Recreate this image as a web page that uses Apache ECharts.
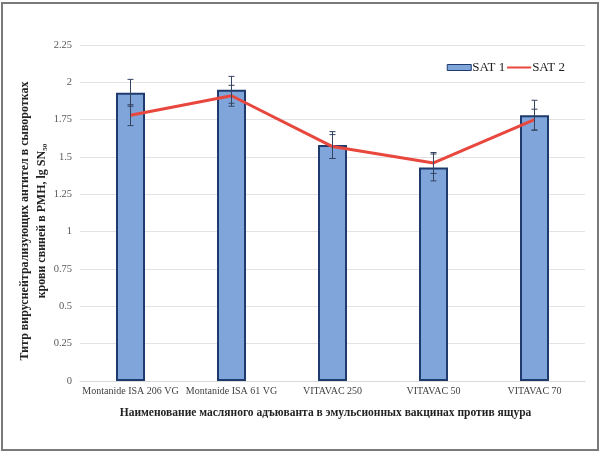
<!DOCTYPE html>
<html><head><meta charset="utf-8">
<script src="https://cdn.jsdelivr.net/npm/echarts@6/dist/echarts.min.js"></script>
<style>html,body{margin:0;padding:0;background:#fff}#c{width:600px;height:455px}</style>
</head><body><div id="c"></div>
<script>
const categories = ['Montanide ISA 206 VG','Montanide ISA 61 VG','VITAVAC 250','VITAVAC 50','VITAVAC 70'];
const sat1 = [1.93, 1.95, 1.58, 1.43, 1.78];
const sat1Err = [0.09, 0.09, 0.09, 0.09, 0.10];
const sat2 = [1.78, 1.91, 1.57, 1.46, 1.75];
const sat2Err = [0.07, 0.07, 0.08, 0.07, 0.07];
const yTicks = [0, 0.25, 0.5, 0.75, 1, 1.25, 1.5, 1.75, 2, 2.25];

const serif = '"Liberation Serif", "DejaVu Serif", serif';
const chart = echarts.init(document.getElementById('c'));

function errRender(values, errs) {
  return function (params, api) {
    const i = api.value(0);
    const v = values[i], e = errs[i];
    const top = api.coord([i, v + e]);
    const bot = api.coord([i, v - e]);
    const x = top[0], hw = 3;
    const st = { stroke: '#34435f', lineWidth: 1 };
    return { type: 'group', children: [
      { type: 'line', shape: { x1: x, y1: top[1], x2: x, y2: bot[1] }, style: st },
      { type: 'line', shape: { x1: x - hw, y1: top[1], x2: x + hw, y2: top[1] }, style: st },
      { type: 'line', shape: { x1: x - hw, y1: bot[1], x2: x + hw, y2: bot[1] }, style: st }
    ]};
  };
}

chart.setOption({
  animation: false,
  textStyle: { fontFamily: serif },
  graphic: [{ type: 'rect', shape: { x: 2, y: 3, width: 596, height: 447 },
    style: { fill: 'none', stroke: '#7a7a7a', lineWidth: 2 }, silent: true }],
  legend: {
    right: 30, top: 56, itemWidth: 24, itemHeight: 6, itemGap: 2,
    textStyle: { fontFamily: serif, fontSize: 13, color: '#222', padding: [0, 0, 0, -4] },
    data: [
      { name: 'SAT 1', icon: 'rect', itemStyle: { color: '#7fa5db', borderColor: '#1f3b6e', borderWidth: 1 } },
      { name: 'SAT 2', icon: 'path://M0,0 L24,0 L24,2 L0,2 Z', itemStyle: { color: '#e8473e' } }
    ]
  },
  grid: { left: 80, right: 15, top: 45, bottom: 74 },
  xAxis: {
    type: 'category', data: categories,
    axisTick: { show: false },
    axisLine: { lineStyle: { color: '#d9d9d9' } },
    axisLabel: { fontFamily: serif, fontSize: 10, color: '#404040', interval: 0, margin: 5 },
    name: 'Наименование масляного адъюванта в эмульсионных вакцинах против ящура',
    nameLocation: 'middle', nameGap: 26, nameMoveOverlap: false,
    nameTextStyle: { fontFamily: serif, fontSize: 11.5, fontWeight: 'bold', color: '#222',
      padding: [0, 14, 0, 0] }
  },
  yAxis: {
    type: 'value', min: 0, max: 2.25, interval: 0.25,
    axisLabel: { fontFamily: serif, fontSize: 10.5, color: '#595959', margin: 8,
      formatter: v => yTicks.includes(v) ? String(v) : '' },
    splitLine: { lineStyle: { color: '#e3e3e3' } },
    axisLine: { show: false }, axisTick: { show: false },
    name: 'Титр вируснейтрализующих антител в сыворотках\nкрови свиней в РМН, lg SN₅₀',
    nameLocation: 'middle', nameGap: 30, nameMoveOverlap: false,
    nameTextStyle: { fontFamily: serif, fontSize: 12, fontWeight: 'bold', color: '#222', lineHeight: 17,
      padding: [0, 16, 0, 0] }
  },
  series: [
    { name: 'SAT 1', type: 'bar', data: sat1, barWidth: 29,
      itemStyle: { color: '#7fa5db', borderColor: '#1f3b6e', borderWidth: 2 } },
    { name: 'SAT 2', type: 'line', data: sat2, symbol: 'none',
      lineStyle: { color: '#e8473e', width: 3 }, itemStyle: { color: '#e8473e' } },
    { name: 'err1', type: 'custom', renderItem: errRender(sat1, sat1Err),
      data: sat1.map((v, i) => [i, v]), z: 5, silent: true },
    { name: 'err2', type: 'custom', renderItem: errRender(sat2, sat2Err),
      data: sat2.map((v, i) => [i, v]), z: 5, silent: true }
  ]
});
</script></body></html>
